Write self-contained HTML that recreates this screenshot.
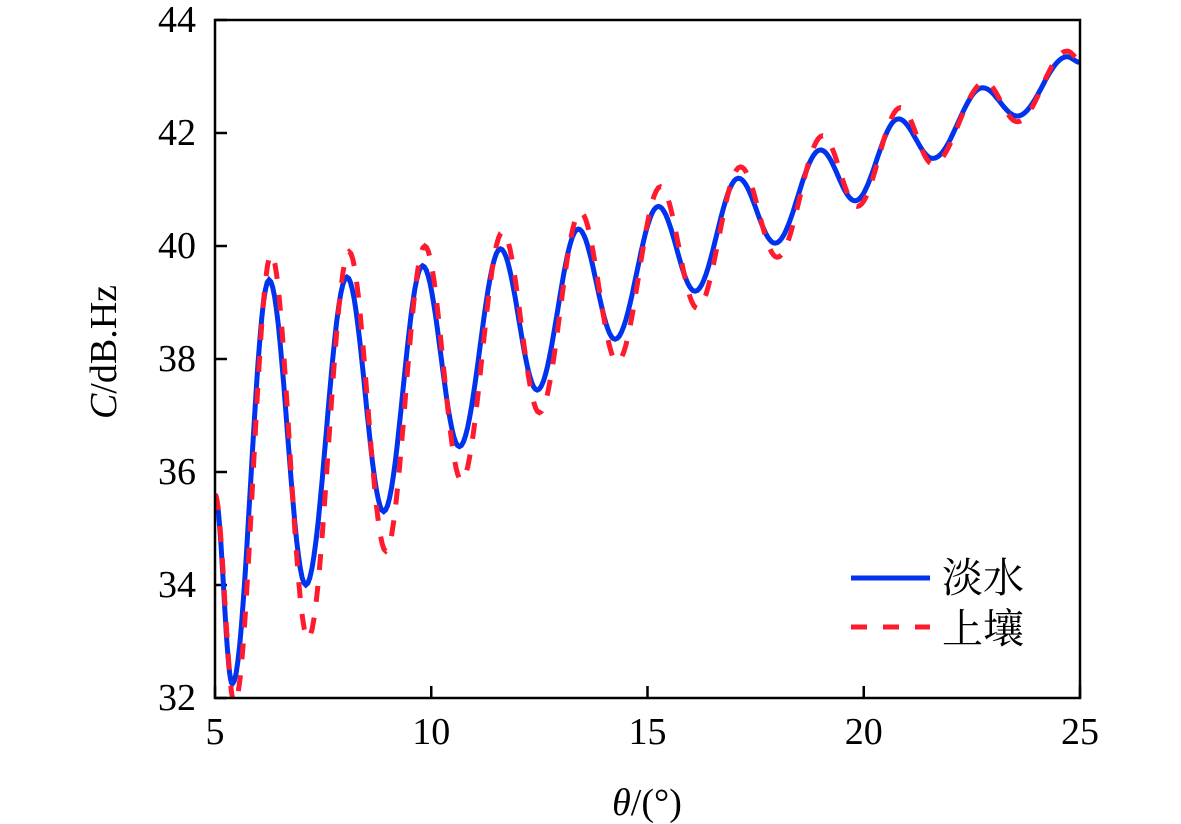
<!DOCTYPE html>
<html><head><meta charset="utf-8">
<style>
html,body{margin:0;padding:0;background:#fff;}
svg{display:block;}
text{font-family:"Liberation Serif","Noto Serif CJK SC",serif;fill:#000;}
</style></head>
<body>
<svg id="chart" width="1181" height="824" viewBox="0 0 1181 824">
<defs><clipPath id="clip"><rect x="215" y="20" width="865" height="678"/></clipPath></defs>
<g id="ticks"></g>
<g id="series" clip-path="url(#clip)"></g>
<rect x="215" y="20" width="865" height="678" fill="none" stroke="#000" stroke-width="2.5"/>
<text x="116" y="352" font-size="38" text-anchor="middle" transform="rotate(-90 116 352)"><tspan font-style="italic">C</tspan>/dB.Hz</text>
<text x="647" y="815" font-size="38" text-anchor="middle"><tspan font-style="italic">θ</tspan>/(°)</text>
<g>
<line x1="851" y1="578" x2="930" y2="578" stroke="#0033ee" stroke-width="5"/>
<text x="942" y="592" font-size="41">淡水</text>
<line x1="851" y1="627" x2="930" y2="627" stroke="#ff1a2e" stroke-width="5" stroke-dasharray="16,16"/>
<text x="942" y="643" font-size="41">上壤</text>
</g>
</svg>
<script>
const xTicks=[5,10,15,20,25];
const yTicks=[32,34,36,38,40,42,44];
const blueX=[5,5.4,6.25,7.1,8.05,8.9,9.8,10.65,11.6,12.45,13.4,14.25,15.25,16.1,17.1,17.95,19.0,19.8,20.8,21.6,22.75,23.55,24.7,25];
const blueY=[35.6,32.25,39.4,34.0,39.45,35.3,39.65,36.45,39.95,37.45,40.3,38.35,40.7,39.2,41.2,40.05,41.7,40.8,42.25,41.55,42.8,42.3,43.35,43.25];
const redX=[5,5.45,6.3,7.15,8.1,8.95,9.85,10.7,11.65,12.5,13.45,14.3,15.3,16.15,17.15,18.0,19.05,19.85,20.85,21.6,22.8,23.55,24.7,25];
const redY=[35.6,31.9,39.85,33.05,39.9,34.6,40.0,35.85,40.25,37.05,40.6,37.95,41.05,38.9,41.4,39.8,41.95,40.7,42.45,41.45,42.9,42.2,43.45,43.3];

const L=215,R=1080,T=20,B=698;
const xs=v=>L+(v-5)/20*(R-L);
const ys=v=>B-(v-32)/12*(B-T);
const NS='http://www.w3.org/2000/svg';
const tg=document.getElementById('ticks');
xTicks.forEach(v=>{
  const l=document.createElementNS(NS,'line');
  l.setAttribute('x1',xs(v));l.setAttribute('x2',xs(v));l.setAttribute('y1',B);l.setAttribute('y2',B-12);
  l.setAttribute('stroke','#000');l.setAttribute('stroke-width','2.5');
  
  
  tg.appendChild(l);
  const t=document.createElementNS(NS,'text');
  t.setAttribute('x',xs(v));t.setAttribute('y',744);t.setAttribute('font-size','38');t.setAttribute('text-anchor','middle');
  t.textContent=v;
  
  
  tg.appendChild(t);
});
yTicks.forEach(v=>{
  const l=document.createElementNS(NS,'line');
  l.setAttribute('x1',L);l.setAttribute('x2',L+12);l.setAttribute('y1',ys(v));l.setAttribute('y2',ys(v));
  l.setAttribute('stroke','#000');l.setAttribute('stroke-width','2.5');
  
  
  tg.appendChild(l);
  const t=document.createElementNS(NS,'text');
  t.setAttribute('x',196);t.setAttribute('y',ys(v)+12);t.setAttribute('font-size','38');t.setAttribute('text-anchor','end');
  t.textContent=v;
  
  
  tg.appendChild(t);
});
function pathFrom(X,Y){
  let d='M'+xs(X[0]).toFixed(1)+','+ys(Y[0]).toFixed(1);
  for(let i=0;i<X.length-1;i++){
    for(let k=1;k<=20;k++){
      const f=k/20, w=(1-Math.cos(Math.PI*f))/2;
      const x=X[i]+(X[i+1]-X[i])*f, y=Y[i]+(Y[i+1]-Y[i])*w;
      d+=' L'+xs(x).toFixed(1)+','+ys(y).toFixed(1);
    }
  }
  return d;
}
const sg=document.getElementById('series');
const pb=document.createElementNS(NS,'path');
pb.setAttribute('d',pathFrom(blueX,blueY));pb.setAttribute('fill','none');pb.setAttribute('stroke','#0033ee');pb.setAttribute('stroke-width','5');


sg.appendChild(pb);
const pr=document.createElementNS(NS,'path');
pr.setAttribute('d',pathFrom(redX,redY));pr.setAttribute('fill','none');pr.setAttribute('stroke','#ff1a2e');pr.setAttribute('stroke-width','5');pr.setAttribute('stroke-dasharray','16,16');


sg.appendChild(pr);
</script>
</body></html>
